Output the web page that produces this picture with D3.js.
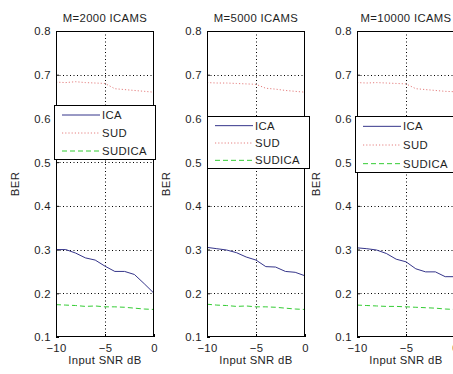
<!DOCTYPE html>
<html><head><meta charset="utf-8">
<script src="https://cdn.jsdelivr.net/npm/d3@7"></script>
<style>body{margin:0;background:#fff}svg{display:block}text{font-family:"Liberation Sans",Arial,sans-serif;}</style>
</head><body>
<svg id="c" width="453" height="374"></svg>
<script>
const snr = [-10,-9,-8,-7,-6,-5,-4,-3,-2,-1,0];
const titles = ["M=2000 ICAMS","M=5000 ICAMS","M=10000 ICAMS"];
const seriesNames = ["ICA","SUD","SUDICA"];
const xTicks = [-10,-5,0];
const yTicks = [0.1,0.2,0.3,0.4,0.5,0.6,0.7,0.8];
const ica1 = [0.300,0.300,0.292,0.281,0.276,0.262,0.250,0.250,0.243,0.222,0.200];
const sud1 = [0.683,0.682,0.684,0.682,0.681,0.680,0.668,0.666,0.664,0.662,0.660];
const sudica1 = [0.174,0.173,0.172,0.170,0.171,0.169,0.169,0.168,0.166,0.164,0.163];
const ica2 = [0.305,0.302,0.299,0.293,0.283,0.276,0.261,0.260,0.250,0.248,0.240];
const sud2 = [0.682,0.681,0.681,0.680,0.679,0.678,0.669,0.667,0.664,0.662,0.660];
const sudica2 = [0.175,0.173,0.172,0.170,0.171,0.169,0.169,0.168,0.166,0.164,0.163];
const ica3 = [0.304,0.302,0.299,0.291,0.278,0.272,0.256,0.249,0.249,0.238,0.238];
const sud3 = [0.682,0.681,0.682,0.681,0.680,0.679,0.668,0.666,0.664,0.662,0.661];
const sudica3 = [0.173,0.172,0.171,0.170,0.170,0.169,0.168,0.167,0.166,0.164,0.163];

const data = [[ica1,sud1,sudica1],[ica2,sud2,sudica2],[ica3,sud3,sudica3]];
const colors = ["#35358a","#e58080","#33cc33"];
const dashes = [null,"1.2,2","5,3"];
const lefts = [56,207,357];
const legendBoxes = [{x:54,y:105,w:101,h:54},{x:207,y:116,w:102,h:52},{x:355,y:116,w:102,h:56}];
const PW = 98, PT = 31, PB = 337;
const FS = 11.3, LS = 0.35, TXT = "#1e1e1e";
const svg = d3.select("#c");

data.forEach((series,p)=>{
  const L = lefts[p];
  const x = d3.scaleLinear().domain([-10,0]).range([L,L+PW]);
  const y = d3.scaleLinear().domain([0.1,0.8]).range([PB,PT]);
  const g = svg.append("g");
  g.append("rect").attr("x",L).attr("y",PT).attr("width",PW).attr("height",PB-PT).attr("fill","#fff");
  // grid
  g.selectAll(".gx").data(xTicks.filter(t=>t>-10&&t<0)).enter().append("line")
    .attr("x1",d=>Math.round(x(d))+0.5).attr("x2",d=>Math.round(x(d))+0.5).attr("y1",PT).attr("y2",PB)
    .attr("stroke","#000").attr("stroke-width",1).attr("stroke-dasharray","1,2.5");
  g.selectAll(".gy").data(yTicks.filter(t=>t>0.1&&t<0.8)).enter().append("line")
    .attr("x1",L).attr("x2",L+PW).attr("y1",d=>Math.round(y(d))+0.5).attr("y2",d=>Math.round(y(d))+0.5)
    .attr("stroke","#000").attr("stroke-width",1).attr("stroke-dasharray","1,2.5");
  // axes
  const ax = g.append("g").attr("transform",`translate(0,${PB})`)
    .call(d3.axisBottom(x).tickValues(xTicks).tickSize(-3).tickPadding(6).tickFormat(d3.format("d")));
  const ay = g.append("g").attr("transform",`translate(${L},0)`)
    .call(d3.axisLeft(y).tickValues(yTicks).tickSize(-3).tickPadding(5).tickFormat(d3.format(".1f")));
  [ax,ay].forEach(a=>{a.select(".domain").remove();a.selectAll("line").attr("stroke","#000");
    a.selectAll("text").attr("font-size",FS).attr("letter-spacing",LS).attr("fill",TXT)
      .style("font-family","'Liberation Sans',Arial,sans-serif");});
  ay.selectAll("text").attr("dy","0.35em");
  ax.selectAll("text").attr("dy","0.82em");
  // lines
  series.forEach((vals,i)=>{
    const line = d3.line().x((d,j)=>x(snr[j])).y(d=>y(d));
    g.append("path").datum(vals).attr("d",line).attr("fill","none")
      .attr("stroke",colors[i]).attr("stroke-width",1)
      .attr("stroke-dasharray",dashes[i]);
  });
  // box
  g.append("rect").attr("x",L+0.5).attr("y",PT+0.5).attr("width",PW-1).attr("height",PB-PT-1)
    .attr("fill","none").attr("stroke","#000").attr("stroke-width",1);
  // title
  g.append("text").attr("x",L+PW/2).attr("y",PT-9).attr("text-anchor","middle")
    .attr("font-size",FS).attr("letter-spacing",LS).attr("fill",TXT).text(titles[p]);
  g.append("text").attr("x",L+PW/2).attr("y",364).attr("text-anchor","middle")
    .attr("font-size",FS).attr("letter-spacing",LS).attr("fill",TXT).text("Input SNR dB");
  g.append("text").attr("transform",`translate(${L-37},${(PT+PB)/2}) rotate(-90)`)
    .attr("text-anchor","middle").attr("font-size",FS).attr("letter-spacing",LS).attr("fill",TXT).text("BER");
  // legend
  const lb = legendBoxes[p];
  const lg = g.append("g");
  lg.append("rect").attr("x",lb.x+0.5).attr("y",lb.y+0.5).attr("width",lb.w).attr("height",lb.h)
    .attr("fill","#fff").attr("stroke","#000").attr("stroke-width",1);
  const step = lb.h/3;
  seriesNames.forEach((n,i)=>{
    const yy = lb.y + step*(i+0.5) + 1;
    lg.append("line").attr("x1",lb.x+8).attr("x2",lb.x+46).attr("y1",yy).attr("y2",yy)
      .attr("stroke",colors[i]).attr("stroke-width",1).attr("stroke-dasharray",dashes[i]);
    lg.append("text").attr("x",lb.x+48).attr("y",yy).attr("dy","0.35em")
      .attr("font-size",FS).attr("letter-spacing",LS).attr("fill",TXT).text(n);
  });
});
</script>
</body></html>
